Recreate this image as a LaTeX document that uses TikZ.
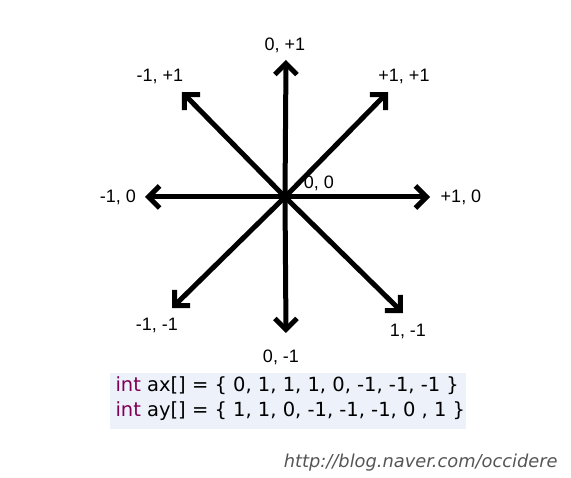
\documentclass[tikz,border=0pt]{standalone}
\usepackage{fontspec}
\setmainfont{Liberation Sans}
\newfontfamily\codefont{DejaVu Sans}
\usetikzlibrary{arrows.meta}
\definecolor{kwcolor}{HTML}{7F0055}
\definecolor{codebg}{HTML}{EDF2FA}
\definecolor{urlgray}{HTML}{555555}
\begin{document}
\begin{tikzpicture}[x=1pt, y=-1pt, line width=5pt, dir/.style={-{Straight Barb[length=11pt,width=22pt]}},
lbl/.style={font=\fontsize{18}{20}\selectfont, inner sep=0pt},
code/.style={font=\codefont\fontsize{19.5}{22}\selectfont, inner sep=0pt, anchor=west}]
\useasboundingbox (0,0) rectangle (571,478);
\fill[codebg] (110,373) rectangle (466,429);
\coordinate (o) at (285,197);
\coordinate (n) at (286,60);
\coordinate (s) at (286,333);
\coordinate (e) at (430,197);
\coordinate (w) at (145,197);
\coordinate (nw) at (182,92);
\coordinate (ne) at (388,92);
\coordinate (sw) at (172,308);
\coordinate (se) at (403,313);
\foreach \d in {n,s,e,w,nw,ne,sw,se}
  \draw[dir] (o) -- (\d);
\begin{scope}[every node/.style={lbl}]
\node (ln) at (285,45) {0, +1};
\node (lnw) at (160,76) {-1, +1};
\node (lne) at (404,76) {+1, +1};
\node (lw) at (118,197) {-1, 0};
\node (le) at (461,197) {+1, 0};
\node (lo) at (319,183) {0, 0};
\node (lsw) at (157,325) {-1, -1};
\node (ls) at (281,357) {0, -1};
\node (lse) at (408,331) {1, -1};
\end{scope}
\node[code] (ax) at (113,386) {\textcolor{kwcolor}{int} ax[] = \{ 0, 1, 1, 1, 0, -1, -1, -1 \}};
\node[code] (ay) at (113,411) {\textcolor{kwcolor}{int} ay[] = \{ 1, 1, 0, -1, -1, -1, 0 , 1 \}};
\node[font=\codefont\fontsize{17.8}{20}\selectfont\itshape, text=urlgray, inner sep=0pt, anchor=east] (url) at (560,463) {http://blog.naver.com/occidere};
\end{tikzpicture}
\end{document}
